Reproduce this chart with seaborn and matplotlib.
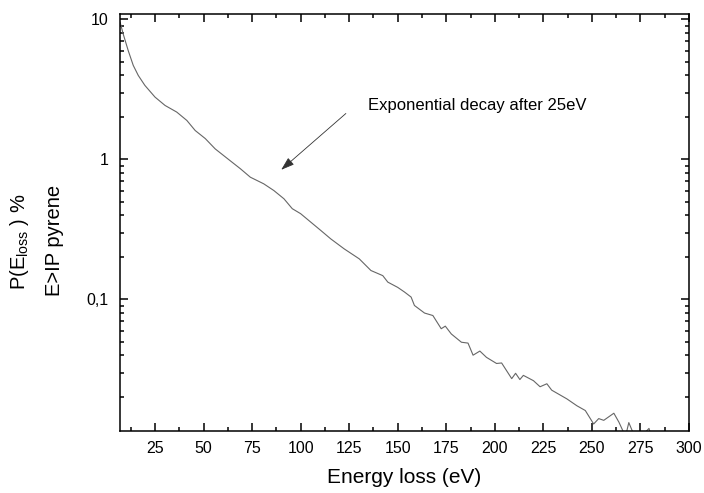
import matplotlib
matplotlib.use("Agg")
import matplotlib.pyplot as plt
import matplotlib.ticker as mticker
import seaborn as sns

# energy loss (eV) and probability (%)
energy = [7, 8.6, 11.2, 13.8, 16.4, 19.8, 25, 30.2, 36.2, 41.4, 45.7, 50.9,
          56, 62.9, 69, 74.1, 81, 86.2, 91.4, 95.7, 100, 105.2, 110.4, 115.5,
          122.4, 130.2, 136.2, 142.3, 144.9, 150, 153.5, 156.9, 158.6, 163.8,
          168.1, 172.4, 174.5, 177.6, 182.8, 186.2, 188.8, 192.3, 195.7,
          200.9, 203.5, 208.7, 210.7, 212.9, 214.7, 219.9, 223.3, 226.8,
          229.3, 237.1, 242.3, 246.6, 250.9, 253.5, 256.1, 261.3, 263.9,
          267.3, 269, 272, 276.8, 279.4, 281]
prob = [9.6, 7.9, 6.0, 4.7, 3.98, 3.38, 2.79, 2.43, 2.18, 1.90, 1.61, 1.41,
        1.19, 1.0, 0.858, 0.747, 0.67, 0.60, 0.524, 0.445, 0.41, 0.357, 0.311,
        0.271, 0.230, 0.195, 0.161, 0.148, 0.133, 0.122, 0.113, 0.104, 0.0906,
        0.080, 0.0768, 0.0618, 0.0645, 0.0567, 0.0495, 0.0488, 0.040, 0.0428,
        0.0386, 0.0349, 0.0352, 0.0272, 0.0297, 0.0268, 0.0287, 0.0263,
        0.0238, 0.025, 0.0225, 0.0195, 0.0174, 0.0161, 0.0129, 0.0141,
        0.0137, 0.0154, 0.0133, 0.0105, 0.0132, 0.0105, 0.0110, 0.0120,
        0.0100]

x_ticks = [25, 50, 75, 100, 125, 150, 175, 200, 225, 250, 275, 300]
y_ticks = [0.1, 1, 10]
y_tick_labels = ["0,1", "1", "10"]

sns.set_style("ticks")
plt.rcParams["font.family"] = ["Liberation Sans", "DejaVu Sans"]
plt.rcParams["mathtext.fontset"] = "custom"
plt.rcParams["mathtext.rm"] = "Liberation Sans"
plt.rcParams["text.color"] = "black"
plt.rcParams["axes.labelcolor"] = "black"

fig = plt.figure(figsize=(7.04, 4.93), dpi=100)
ax = fig.add_axes([0.1705, 0.1258, 0.8082, 0.8448])

sns.lineplot(x=energy, y=prob, ax=ax, color="#666666", linewidth=0.8,
             estimator=None, sort=False)

ax.set_yscale("log")
ax.set_xlim(7, 300)
ax.set_ylim(0.0115, 10.85)

ax.set_xticks(x_ticks)
ax.xaxis.set_minor_locator(mticker.MultipleLocator(12.5))
ax.set_yticks(y_ticks)
ax.set_yticklabels(y_tick_labels)
ax.yaxis.set_minor_locator(mticker.LogLocator(base=10, subs=range(2, 10)))
ax.yaxis.set_minor_formatter(mticker.NullFormatter())

ax.tick_params(which="both", direction="in", top=True, right=True,
               width=1.1, colors="black", labelsize=11.5)
ax.tick_params(which="major", length=6)
ax.tick_params(which="minor", length=2.8)
ax.tick_params(axis="x", pad=7)
ax.tick_params(axis="y", pad=8)
for s in ax.spines.values():
    s.set_linewidth(1.1)
    s.set_color("black")

ax.set_xlabel("Energy loss (eV)", fontsize=15, labelpad=9)

fig.text(0.028, 0.51, r"P(E$_{\mathregular{loss}}$ ) %", rotation=90,
         fontsize=14.5, ha="center", va="center")
fig.text(0.077, 0.512, "E>IP pyrene", rotation=90,
         fontsize=14.5, ha="center", va="center")

ax.annotate("", xy=(90, 0.844), xytext=(123.3, 2.13),
            arrowprops=dict(arrowstyle="-|>,head_length=0.45,head_width=0.15",
                            color="#333333", lw=0.6, mutation_scale=18,
                            shrinkA=0, shrinkB=0))
ax.text(134.5, 2.43, "Exponential decay after 25eV", fontsize=12,
        ha="left", va="center")

fig.savefig("out.png", dpi=100)
